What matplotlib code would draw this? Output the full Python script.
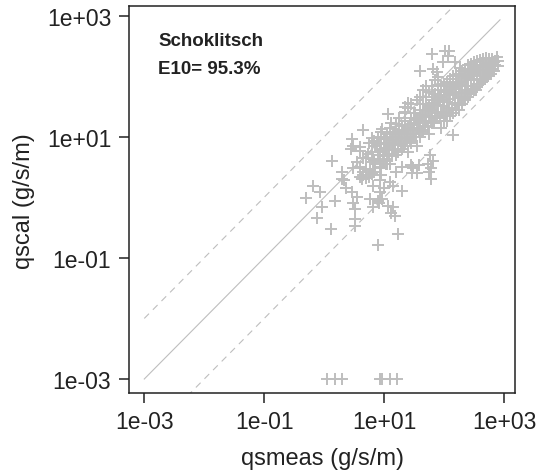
import matplotlib
matplotlib.use('Agg')
import matplotlib.pyplot as plt
import numpy as np

# measured vs calculated bedload (g/s/m), read off the log-log plot
# scattered points
qsmeas = [0.5, 0.66, 0.85, 0.91, 0.75, 1.3, 1.35, 1.5, 1.95, 2.1, 2.8, 2.9, 4.4, 2.9, 3.5, 3.2, 3.2, 3.2, 7.9, 17,
          3.5, 4.0, 6.6, 8.5, 7.9, 11.7, 14, 5.8, 4.5, 5.0, 4.0, 5.8, 8.5, 12.5, 16, 6.6, 8.5, 11, 5.4, 8.5,
          11.7, 22, 9.1, 3.0, 58, 54, 29, 30, 28, 40, 66, 62, 103, 117, 96, 150, 120, 76,
          2.3, 2.0, 3.0, 4.0, 4.5, 6.8, 8.7, 10, 14, 19.5, 29, 56, 60, 38,
          4.0, 4.5, 5.0, 5.6, 6.3, 4.2, 3.0, 3.5, 6.5, 8.1, 9.3, 13, 15, 7.6, 10.7, 13,
          25, 32, 22, 15, 10, 6.8, 78, 182, 126, 83, 141, 64, 60, 35]
qscal = [0.97, 1.55, 1.2, 0.69, 0.45, 0.3, 4.0, 0.88, 2.6, 1.9, 6.3, 9.3, 13, 1.2, 1.0, 0.64, 0.44, 0.33, 0.16, 0.25,
         3.8, 6.7, 1.55, 1.2, 0.88, 0.72, 0.69, 0.94, 2.6, 2.9, 3.2, 2.8, 1.9, 1.8, 2.6, 3.8, 4.3, 3.5, 5.2, 5.9,
         24, 31, 13.5, 6.9, 4.9, 3.5, 3.2, 3.0, 3.4, 123, 132, 234, 265, 218, 170, 170, 257, 117,
         1.45, 2.0, 3.0, 5.9, 4.5, 4.2, 2.3, 1.45, 1.55, 1.26, 2.5, 2.6, 2.0, 3.4,
         2.2, 2.3, 2.1, 2.2, 2.4, 2.0, 0.81, 1.0, 0.7, 0.81, 0.93, 0.55, 0.5, 7.6, 9.1, 16.6,
         36, 25, 26, 12, 10, 8.5, 71, 135, 79, 47, 10.5, 3.9, 3.0, 2.5]

# dense band
band_meas = [5.0, 5.6, 6.3, 6.3, 7.1, 7.1, 7.9, 7.9, 8.9, 8.9, 8.9, 10, 10, 10,
             11.2, 11.2, 11.2, 12.6, 12.6, 12.6, 14.1, 14.1, 14.1, 15.8, 15.8, 15.8, 17.8, 17.8, 17.8, 20, 20, 20, 20,
             22.4, 22.4, 22.4, 22.4, 25.1, 25.1, 25.1, 25.1, 28.2, 28.2, 28.2, 28.2, 31.6, 31.6, 31.6,
             35.5, 35.5, 35.5, 35.5, 39.8, 39.8, 39.8, 39.8,
             44.7, 44.7, 44.7, 44.7, 50.1, 50.1, 50.1, 50.1, 56.2, 56.2, 56.2, 56.2,
             63.1, 63.1, 63.1, 63.1, 70.8, 70.8, 70.8, 70.8, 79.4, 79.4, 79.4, 79.4,
             89.1, 89.1, 89.1, 89.1, 100, 100, 100, 100, 112, 112, 112, 112,
             126, 126, 126, 126, 141, 141, 141, 141, 158, 158, 158, 158,
             178, 178, 178, 178, 200, 200, 200, 200, 224, 224, 224, 224,
             251, 251, 251, 251, 282, 282, 282, 282, 316, 316, 316, 316,
             355, 355, 355, 355, 398, 398, 398, 398, 447, 447, 447, 447,
             501, 501, 501, 501, 562, 562, 562, 631, 631, 631, 708, 708, 794, 794, 750]
band_cal = [4.5, 7.9, 5.6, 9.5, 3.5, 7.1, 10, 5.0, 8.0, 12, 3.2, 6.3, 9.0, 4.0,
            11, 7.5, 5.0, 14, 9.5, 3.5, 8.0, 12, 6.0, 16, 10, 5.0, 13, 8.5, 20, 11, 6.3, 15, 3.2,
            18, 12, 8, 25, 14, 10, 30, 5.5, 20, 13, 35, 8.0, 25, 16, 11,
            40, 20, 14, 7.0, 28, 18, 45, 10,
            35, 22, 60, 13, 45, 28, 18, 70, 32, 55, 22, 11,
            40, 70, 28, 17, 50, 85, 35, 20, 60, 42, 95, 25,
            70, 45, 25, 14, 75, 55, 32, 18, 80, 60, 38, 18,
            90, 70, 42, 22, 100, 75, 48, 25, 105, 80, 52, 28,
            110, 70, 45, 28, 120, 80, 55, 35, 130, 95, 60, 40,
            150, 105, 70, 45, 160, 120, 85, 55, 170, 130, 90, 60,
            180, 140, 100, 65, 185, 145, 110, 75, 190, 150, 115, 85,
            200, 160, 125, 95, 190, 150, 115, 195, 160, 130, 180, 150, 175, 145, 205]

# more points inside the band
fill_meas = [6.7, 8.4, 9.5, 10.6, 11.9, 13.3, 15, 16.8, 18.8, 21.1,
             23.7, 26.6, 29.8, 33.5, 37.6, 42.2, 47.3, 53.1, 59.6, 66.8,
             75, 84, 94, 106, 119, 133, 150, 168, 188, 211,
             237, 266, 298, 335, 376, 422, 473, 531, 596, 668]
fill_cal_a = [4.2, 5.5, 4.8, 6.5, 7.0, 8.8, 7.2, 11, 9.5, 13,
              11, 16, 14, 19, 17, 23, 21, 30, 27, 36,
              33, 45, 40, 55, 50, 66, 62, 80, 75, 100,
              92, 115, 110, 140, 125, 150, 140, 165, 150, 170]
fill_cal_b = [2.6, 3.0, 3.9, 3.6, 5.2, 4.8, 6.0, 5.5, 7.5, 7.0,
              9.0, 8.4, 11, 10, 13, 12, 15, 14.5, 18, 17,
              22, 20, 26, 24, 30, 28, 36, 34, 44, 42,
              52, 50, 62, 60, 75, 80, 90, 100, 110, 120]

# qscal = 0 plotted at the lower limit
zero_meas = [1.1, 1.5, 1.95, 8.5, 9.2, 12.4, 16.1]
zero_cal = [1e-3] * len(zero_meas)

line_x = [1e-3, 850]
E10 = 95.3

plt.rcParams['font.family'] = ['Liberation Sans', 'DejaVu Sans']

fig = plt.figure(figsize=(5.4, 4.77), dpi=100)
ax = fig.add_axes([0.2394, 0.1734, 0.9537 - 0.2394, 0.9843 - 0.1734])

grey = '#bebebe'
lx = np.array(line_x)
ax.plot(lx, lx, color=grey, lw=0.8)
ax.plot(lx, lx * 10, color=grey, lw=0.8, dashes=(6, 5))
ax.plot(lx, lx / 10, color=grey, lw=0.8, dashes=(6, 5))

allx = qsmeas + band_meas + fill_meas + fill_meas + zero_meas
ally = qscal + band_cal + fill_cal_a + fill_cal_b + zero_cal
ax.plot(allx, ally, ls='none', marker='+', ms=8.5, mew=1.4, color=grey)

ax.set_xscale('log')
ax.set_yscale('log')
ax.set_xlim(10 ** -3.25, 10 ** 3.18)
ax.set_ylim(10 ** -3.236, 10 ** 3.15)

ticks = [1e-3, 1e-1, 1e1, 1e3]
tick_labels = ['1e-03', '1e-01', '1e+01', '1e+03']
ax.set_xticks(ticks)
ax.set_xticklabels(tick_labels)
ax.set_yticks(ticks)
ax.set_yticklabels(tick_labels)
ax.minorticks_off()
ax.tick_params(axis='both', labelsize=16.5, length=7, width=1.1, color='#222222', labelcolor='#222222')
ax.tick_params(axis='x', pad=5)
ax.tick_params(axis='y', pad=6)
for s in ax.spines.values():
    s.set_linewidth(1.1)
    s.set_color('#222222')

ax.set_xlabel('qsmeas (g/s/m)', fontsize=17, color='#222222')
ax.set_ylabel('qscal (g/s/m)', fontsize=17, color='#222222')
ax.xaxis.set_label_coords(0.5, -0.14)
ax.yaxis.set_label_coords(-0.245, 0.5)

ax.text(0.075, 0.935, 'Schoklitsch', transform=ax.transAxes, fontsize=13.5,
        fontweight='bold', color='#222222', va='top')
ax.text(0.075, 0.862, 'E10= %.1f%%' % E10, transform=ax.transAxes, fontsize=13.5,
        fontweight='bold', color='#222222', va='top')

fig.savefig('out.png', dpi=100)
